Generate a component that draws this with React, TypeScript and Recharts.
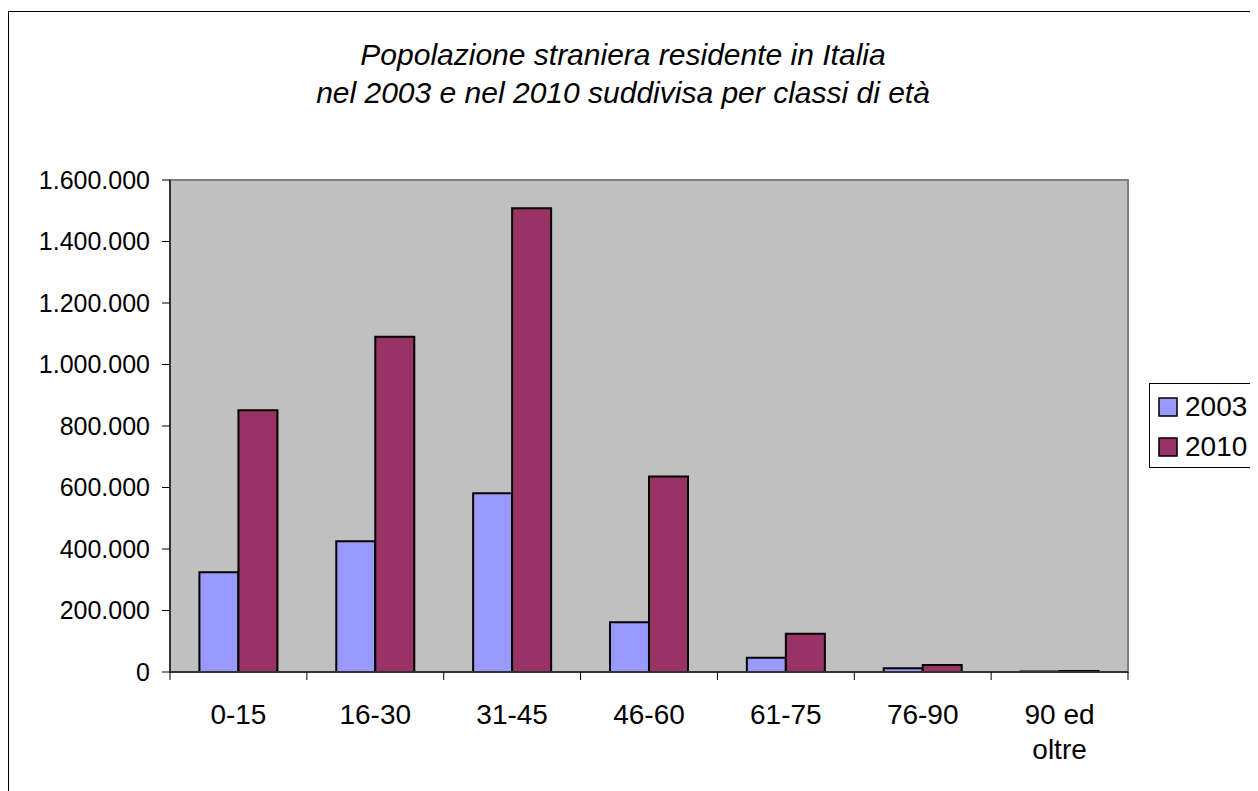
import React from 'react';
import { BarChart, Bar, XAxis, YAxis, CartesianGrid, Legend, ReferenceArea } from 'recharts';

const categories = ['0-15', '16-30', '31-45', '46-60', '61-75', '76-90', '90 ed\noltre'];
const values2003 = [324000, 425000, 581000, 162000, 46000, 12000, 1500];
const values2010 = [851000, 1090000, 1508000, 636000, 124000, 23000, 3000];
const seriesNames = ['2003', '2010'];
const seriesColors = ['#9999FF', '#993366'];
const yTicks = [0, 200000, 400000, 600000, 800000, 1000000, 1200000, 1400000, 1600000];
const titleLines = [
  'Popolazione straniera residente in Italia',
  'nel 2003 e nel 2010 suddivisa per classi di età',
];

const data = categories.map((c, i) => ({ cat: c, v2003: values2003[i], v2010: values2010[i] }));

const FONT = '"Liberation Sans", Arial, sans-serif';
const CHART_W = 1250;
const CHART_H = 775;
const LEGEND_W = 130;
const MARGIN = { top: 172, right: 0, bottom: 31, left: 0 };
const Y_AXIS_W = 162;
const PLOT_W = CHART_W - MARGIN.left - MARGIN.right - LEGEND_W - Y_AXIS_W;

const fmt = (v: number) => String(v).replace(/\B(?=(\d{3})+(?!\d))/g, '.');

const XTick = (props: any) => {
  const { x, y, payload, index } = props;
  const half = payload && typeof payload.offset === 'number' && payload.offset > 0
    ? payload.offset
    : PLOT_W / categories.length / 2;
  const lines = String(payload.value).split('\n');
  const last = index === categories.length - 1;
  return (
    <g>
      <line x1={x - half} x2={x - half} y1={y} y2={y + 8} stroke="#000" strokeWidth={1} />
      {last && <line x1={x + half} x2={x + half} y1={y} y2={y + 8} stroke="#000" strokeWidth={1} />}
      <text x={x} y={y + 52} textAnchor="middle" fontSize={28} fontFamily={FONT} fill="#000">
        {lines.map((l, i) => (
          <tspan key={i} x={x} dy={i === 0 ? 0 : 35}>{l}</tspan>
        ))}
      </text>
    </g>
  );
};

const LegendBox = (props: any) => {
  const payload = props.payload || [];
  return (
    <div style={{ width: LEGEND_W, height: 85, border: '1px solid #000', boxSizing: 'border-box', background: '#fff' }}>
      <svg width={LEGEND_W - 2} height={83} style={{ display: 'block' }}>
        {payload.map((p: any, i: number) => (
          <g key={i}>
            <rect x={9} y={14 + 40 * i} width={18} height={18} fill={p.color} stroke="#000" strokeWidth={1.5} />
            <text x={35} y={32 + 40 * i} fontSize={28} fontFamily={FONT} fill="#000">{p.value}</text>
          </g>
        ))}
      </svg>
    </div>
  );
};

export default function App() {
  return (
    <div style={{ position: 'relative', width: CHART_W, height: 783, overflow: 'hidden', fontFamily: FONT }}>
      <style>{'html,body{overflow:hidden}'}</style>
      <div style={{ position: 'absolute', left: 0, top: 3, width: 1400, height: 1000, border: '1.5px solid #000', boxSizing: 'border-box' }} />
      <svg width={CHART_W} height={150} style={{ position: 'absolute', left: 0, top: 0, pointerEvents: 'none' }}>
        {titleLines.map((t, i) => (
          <text key={i} x={615} y={57 + 38 * i} textAnchor="middle" fontSize={30} fontStyle="italic" fontFamily={FONT} fill="#000">{t}</text>
        ))}
      </svg>
      <div style={{ position: 'absolute', left: 0, top: 0 }}>
        <BarChart width={CHART_W} height={CHART_H} data={data} margin={MARGIN} barCategoryGap="21.5%" barGap={0}>
          <CartesianGrid horizontal={false} vertical={false} fill="#C0C0C0" />
          <ReferenceArea y1={0} y2={1600000} fill="none" stroke="#808080" strokeWidth={2} ifOverflow="visible" />
          <XAxis
            dataKey="cat"
            interval={0}
            height={80}
            tickSize={0}
            tickMargin={0}
            tickLine={false}
            axisLine={{ stroke: '#333', strokeWidth: 2 }}
            tick={<XTick />}
          />
          <YAxis
            width={Y_AXIS_W}
            domain={[0, 1600000]}
            ticks={yTicks}
            interval={0}
            tickFormatter={fmt}
            tickSize={8}
            tickMargin={12}
            tickLine={{ stroke: '#000' }}
            axisLine={{ stroke: '#333', strokeWidth: 2 }}
            tick={{ fontSize: 25, fill: '#000', fontFamily: FONT }}
          />
          <Legend
            layout="vertical"
            align="right"
            verticalAlign="middle"
            width={LEGEND_W}
            content={<LegendBox />}
            wrapperStyle={{ left: 1141, top: 375, right: 'auto', width: LEGEND_W, height: 85 }}
          />
          <Bar dataKey="v2003" name={seriesNames[0]} fill={seriesColors[0]} stroke="#000" strokeWidth={2} isAnimationActive={false} />
          <Bar dataKey="v2010" name={seriesNames[1]} fill={seriesColors[1]} stroke="#000" strokeWidth={2} isAnimationActive={false} />
        </BarChart>
      </div>
    </div>
  );
}
